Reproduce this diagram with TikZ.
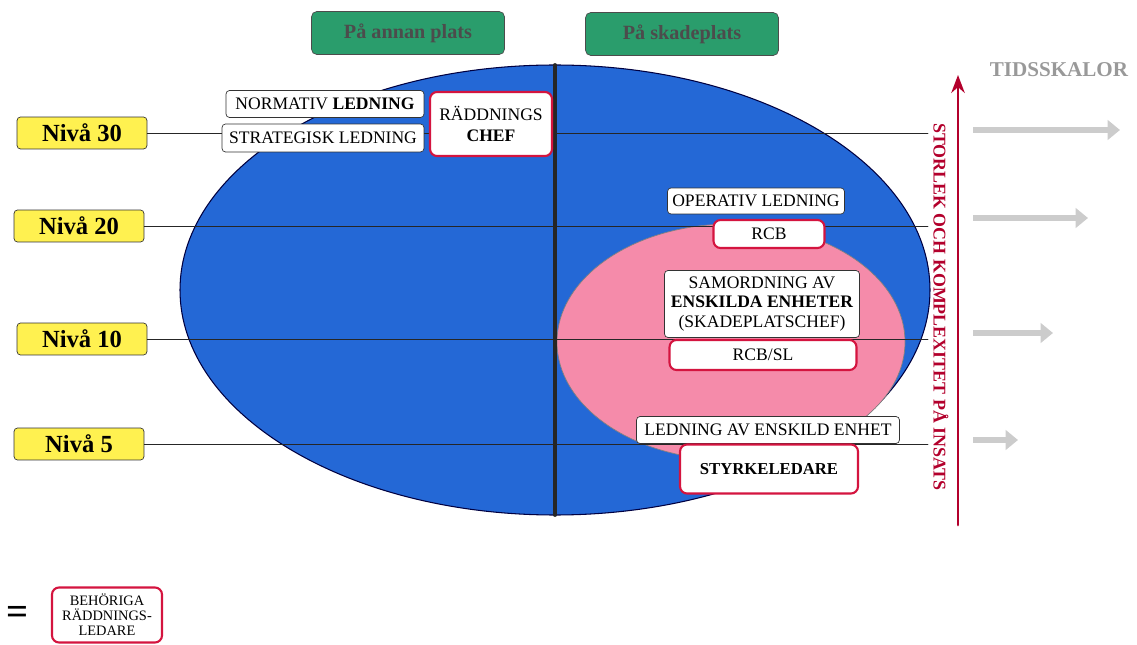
\documentclass[tikz,border=0pt]{standalone}
\usepackage{fontspec}
\setmainfont{Liberation Serif}
\usetikzlibrary{arrows.meta}
\definecolor{ellblue}{HTML}{2468D6}
\definecolor{ellpink}{HTML}{F58BAA}
\definecolor{zonegreen}{HTML}{2A9D6C}
\definecolor{nivyellow}{HTML}{FFF150}
\definecolor{ledred}{HTML}{D4143F}
\definecolor{scalered}{HTML}{B3002C}
\begin{document}
\begin{tikzpicture}[x=0.02cm,y=-0.02cm,>=Stealth,line join=round,line cap=round,
  niva/.style={draw=black!80,fill=nivyellow,rounded corners=2pt,minimum width=2.6cm,minimum height=0.64cm,font=\fontsize{14}{15}\selectfont\bfseries},
  tag/.style={draw=black!80,fill=white,rounded corners=2pt,inner sep=1pt,align=center,font=\fontsize{10}{11.3}\selectfont},
  leader/.style={draw=ledred,line width=1.2pt,fill=white,rounded corners=4pt,inner sep=1pt,align=center,font=\fontsize{10}{11.5}\selectfont},
  zone/.style={draw=black!70,fill=zonegreen,rounded corners=3pt,minimum width=3.86cm,minimum height=0.86cm,font=\fontsize{11.5}{12}\selectfont\bfseries,text=black!70},
  level/.style={draw=black!85,line width=0.5pt},
  timearrow/.style={draw=black!20,line width=3pt,line cap=butt,-{Triangle[width=11pt,length=7pt]}}]
  \useasboundingbox (0,0) rectangle (1137,645);

  \node[zone] (annan) at (408,33) {På annan plats};
  \node[zone] (skade) at (682,34) {På skadeplats};

  \fill[ellblue,draw=black!75!blue,line width=0.6pt] (555,290) ellipse [x radius=375,y radius=225];
  \fill[ellpink,draw=black!50,line width=0.4pt] (731,342) ellipse [x radius=174,y radius=118];
  \coordinate (mtop) at (555,65);
  \coordinate (mbot) at (555,515);
  \draw[line width=2.2pt,black!85] (mtop) -- (mbot);

  \node[niva] (n30) at (82,133) {Nivå 30};
  \node[niva] (n20) at (79,226) {Nivå 20};
  \node[niva] (n10) at (82,339) {Nivå 10};
  \node[niva] (n5) at (79,444) {Nivå 5};

  \coordinate (rend) at (928,0);
  \foreach \n in {n30,n20,n10,n5}
    \draw[level] (\n.east) -- (\n.east -| rend);

  \node[tag,minimum width=3.96cm,minimum height=0.54cm] (normativ) at (325,104) {NORMATIV \textbf{LEDNING}};
  \node[tag,minimum width=4.04cm,minimum height=0.56cm] (strategisk) at (323,138) {STRATEGISK LEDNING};
  \node[leader,minimum width=2.44cm,minimum height=1.28cm] (rchef) at (491,124) {RÄDDNINGS\\\textbf{CHEF}};

  \node[tag,minimum width=3.54cm,minimum height=0.52cm] (operativ) at (756,201) {OPERATIV LEDNING};
  \node[leader,minimum width=2.22cm,minimum height=0.56cm] (rcb) at (769,234) {RCB};
  \node[tag,minimum width=3.9cm,minimum height=1.34cm] (samord) at (762,304) {SAMORDNING AV\\\textbf{ENSKILDA ENHETER}\\(SKADEPLATSCHEF)};
  \node[leader,minimum width=3.74cm,minimum height=0.6cm] (rcbsl) at (763,355) {RCB/SL};
  \node[tag,minimum width=5.26cm,minimum height=0.54cm] (ledenh) at (768,430) {LEDNING AV ENSKILD ENHET};
  \node[leader,minimum width=3.56cm,minimum height=0.98cm,font=\fontsize{9.5}{11}\selectfont\bfseries] (styrk) at (769,469) {STYRKELEDARE};

  \coordinate (sbot) at (958,525);
  \coordinate (stop) at (958,75);
  \draw[->,scalered,line width=1.6pt] (sbot) -- (stop);
  \node[rotate=-90,text=scalered,font=\fontsize{10.2}{11}\selectfont\bfseries] (storlek) at (941,307) {STORLEK OCH KOMPLEXITET PÅ INSATS};

  \node[text=black!40,font=\fontsize{12}{13}\selectfont\bfseries] (tid) at (1059,70) {TIDSSKALOR};
  \foreach \y/\xe in {130/1120,218/1088,333/1053,440/1018}
    \draw[timearrow] (973,\y) -- (\xe,\y);

  \node[font=\fontsize{22}{22}\selectfont\bfseries] (eq) at (18,615) {=};
  \node[leader,minimum width=2.2cm,minimum height=1.1cm,font=\fontsize{8.2}{8.6}\selectfont] (legend) at (107,615) {BEHÖRIGA\\RÄDDNINGS-\\LEDARE};
\end{tikzpicture}
\end{document}
